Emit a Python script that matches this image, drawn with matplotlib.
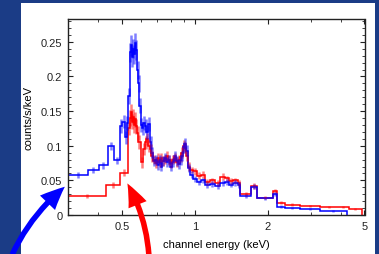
import numpy as np
import matplotlib
matplotlib.use("Agg")
import matplotlib.pyplot as plt
from matplotlib.patches import Rectangle
from matplotlib.ticker import FixedLocator, NullFormatter, MultipleLocator, FixedFormatter

plt.rcParams['font.family'] = ['Liberation Sans', 'DejaVu Sans']

# ---- data (keV bin edges, counts/s/keV) ----
blue_edges = [0.30, 0.361, 0.402, 0.438, 0.465, 0.490, 0.503, 0.515, 0.523, 0.531,
              0.539, 0.545, 0.550, 0.555, 0.560, 0.566, 0.571, 0.577, 0.584, 0.591,
              0.597, 0.606, 0.614, 0.622, 0.630, 0.640, 0.652, 0.662, 0.671, 0.684,
              0.697, 0.710, 0.722, 0.735, 0.748, 0.762, 0.776, 0.789, 0.805, 0.820,
              0.835, 0.850, 0.866, 0.880, 0.892, 0.905, 0.920, 0.936, 0.954, 0.985,
              1.019, 1.06, 1.10, 1.15, 1.21, 1.27, 1.33, 1.38, 1.43, 1.50,
              1.54, 1.71, 1.81, 2.10, 2.18, 2.35, 2.71, 3.28, 4.23]
blue_vals = [0.058, 0.065, 0.072, 0.100, 0.079, 0.128, 0.135, 0.112, 0.133,
             0.172, 0.235, 0.245, 0.228, 0.240, 0.232, 0.248, 0.238, 0.210,
             0.190, 0.158, 0.130, 0.125, 0.133, 0.128, 0.120, 0.132, 0.105,
             0.090, 0.078, 0.080, 0.072, 0.080, 0.070, 0.078, 0.083, 0.077,
             0.080, 0.070, 0.076, 0.085, 0.078, 0.074, 0.079, 0.085, 0.098,
             0.103, 0.093, 0.068, 0.058, 0.052, 0.047, 0.050, 0.043, 0.045,
             0.042, 0.046, 0.048, 0.044, 0.046, 0.043, 0.028, 0.041, 0.024,
             0.030, 0.012, 0.010, 0.008, 0.0055]
blue_errs = [0.004, 0.004, 0.005, 0.006, 0.005, 0.010, 0.010, 0.010, 0.010,
             0.012, 0.014, 0.015, 0.014, 0.014, 0.014, 0.015, 0.014, 0.013,
             0.012, 0.011, 0.010, 0.010, 0.010, 0.010, 0.010, 0.010, 0.009,
             0.008, 0.007, 0.007, 0.007, 0.007, 0.007, 0.007, 0.007, 0.007,
             0.007, 0.007, 0.007, 0.007, 0.007, 0.007, 0.007, 0.007, 0.008,
             0.008, 0.008, 0.006, 0.005, 0.005, 0.004, 0.004, 0.004, 0.004,
             0.004, 0.004, 0.004, 0.004, 0.004, 0.004, 0.003, 0.004, 0.002,
             0.003, 0.002, 0.002, 0.0015, 0.001]

red_edges = [0.30, 0.432, 0.490, 0.531, 0.539, 0.545, 0.550, 0.555, 0.560, 0.566,
             0.571, 0.577, 0.584, 0.597, 0.610, 0.622, 0.630, 0.640, 0.652, 0.662,
             0.671, 0.684, 0.697, 0.710, 0.722, 0.735, 0.748, 0.762, 0.776, 0.789,
             0.805, 0.820, 0.835, 0.850, 0.866, 0.880, 0.892, 0.905, 0.920, 0.936,
             0.954, 0.985, 1.019, 1.06, 1.10, 1.15, 1.21, 1.27, 1.33, 1.38,
             1.43, 1.50, 1.54, 1.71, 1.81, 2.10, 2.18, 2.35, 2.71, 3.28,
             3.9, 4.3, 4.87]
red_vals = [0.027, 0.043, 0.061, 0.125, 0.140, 0.148, 0.135, 0.142, 0.130,
            0.138, 0.128, 0.118, 0.105, 0.076, 0.095, 0.105, 0.110, 0.100,
            0.095, 0.085, 0.080, 0.075, 0.082, 0.077, 0.083, 0.078, 0.080,
            0.085, 0.079, 0.075, 0.080, 0.082, 0.077, 0.080, 0.084, 0.090,
            0.100, 0.097, 0.085, 0.070, 0.065, 0.063, 0.057, 0.058, 0.048,
            0.050, 0.046, 0.055, 0.053, 0.049, 0.050, 0.046, 0.030, 0.042,
            0.025, 0.035, 0.018, 0.015, 0.013, 0.011, 0.012, 0.009]
red_errs = [0.003, 0.004, 0.005, 0.010, 0.011, 0.012, 0.011, 0.011, 0.011,
            0.011, 0.011, 0.010, 0.010, 0.008, 0.009, 0.009, 0.009, 0.009,
            0.008, 0.008, 0.007, 0.007, 0.007, 0.007, 0.007, 0.007, 0.007,
            0.007, 0.007, 0.007, 0.007, 0.007, 0.007, 0.007, 0.007, 0.008,
            0.008, 0.008, 0.007, 0.006, 0.005, 0.005, 0.005, 0.005, 0.004,
            0.004, 0.004, 0.005, 0.004, 0.004, 0.004, 0.004, 0.003, 0.004,
            0.002, 0.003, 0.002, 0.002, 0.0015, 0.0015, 0.0015, 0.0015]

xticks = [0.5, 1, 2, 5]
xticklabels = ["0.5", "1", "2", "5"]
yticks = [0, 0.05, 0.1, 0.15, 0.2, 0.25]
yticklabels = ["0", "0.05", "0.1", "0.15", "0.2", "0.25"]

BG = "#1b3c86"
W, H = 379, 255
fig = plt.figure(figsize=(W / 100, H / 100), dpi=100, facecolor=BG)
fig.patches.append(Rectangle((21 / W, 0), (375 - 21) / W, (H - 4) / H,
                             transform=fig.transFigure, facecolor="white",
                             edgecolor="none", zorder=-10))

ax = fig.add_axes([68 / W, (H - 216) / H, (364.5 - 68) / W, (216 - 20) / H])
ax.set_zorder(5)
ax.set_facecolor("white")

for edges, vals, errs, col in [(red_edges, red_vals, red_errs, "#ff0000"),
                               (blue_edges, blue_vals, blue_errs, "#0000ff")]:
    e = np.array(edges)
    v = np.array(vals)
    c = np.sqrt(e[:-1] * e[1:])
    ax.errorbar(c, v, yerr=errs, fmt="none", ecolor=col, alpha=0.5,
                elinewidth=1.8, capsize=0)
    ax.stairs(v, e, color=col, linewidth=1.1)

ax.set_xscale("log")
ax.set_xlim(0.3, 5)
ax.set_ylim(0, 0.283)
ax.xaxis.set_major_locator(FixedLocator(xticks))
ax.xaxis.set_major_formatter(FixedFormatter(xticklabels))
ax.xaxis.set_minor_locator(FixedLocator([0.3, 0.4, 0.6, 0.7, 0.8, 0.9, 3, 4]))
ax.xaxis.set_minor_formatter(NullFormatter())
ax.yaxis.set_major_locator(FixedLocator(yticks))
ax.yaxis.set_major_formatter(FixedFormatter(yticklabels))
ax.yaxis.set_minor_locator(MultipleLocator(0.01))
ax.tick_params(which="both", direction="in", top=True, right=True,
               labelsize=8, colors="#222222")
ax.tick_params(which="major", length=3.5, width=0.8, pad=4)
ax.tick_params(which="minor", length=2, width=0.6)
for s in ax.spines.values():
    s.set_linewidth(1.0)
    s.set_color("#222222")

ax.set_xlabel("channel energy (keV)", fontsize=8, labelpad=6)
ax.set_ylabel("counts/s/keV", fontsize=8, labelpad=5)

# pointer arrows
ax.annotate("", xy=(67, H - 186), xycoords="figure pixels",
            xytext=(11, -3), textcoords="figure pixels",
            arrowprops=dict(arrowstyle="simple,head_width=0.75,head_length=0.85,tail_width=0.2",
                            mutation_scale=20, color="#0000ff", lw=0,
                            connectionstyle="arc3,rad=-0.12"),
            annotation_clip=False)
ax.annotate("", xy=(126, H - 182), xycoords="figure pixels",
            xytext=(149, -3), textcoords="figure pixels",
            arrowprops=dict(arrowstyle="simple,head_width=0.7,head_length=0.85,tail_width=0.2",
                            mutation_scale=20, color="#ff0000", lw=0,
                            connectionstyle="arc3,rad=0.12"),
            annotation_clip=False)

fig.savefig("out.png", dpi=100, facecolor=BG)
